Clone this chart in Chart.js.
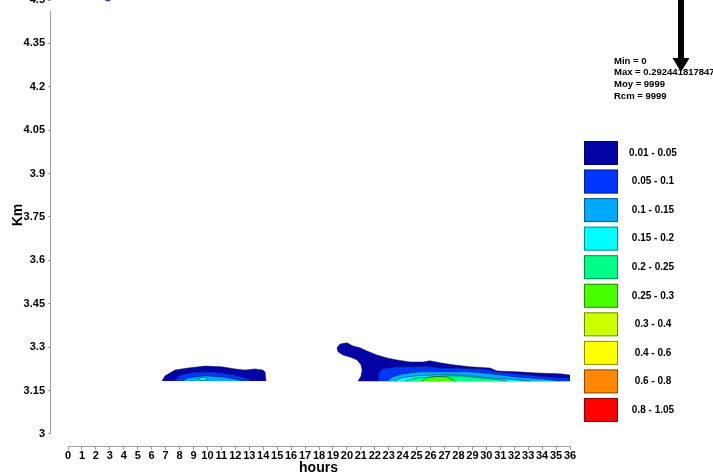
<!DOCTYPE html>
<html>
<head>
<meta charset="utf-8">
<script src="https://cdn.jsdelivr.net/npm/chart.js@4/dist/chart.umd.min.js"></script>
<style>
  html, body { margin: 0; padding: 0; background: #fff; overflow: hidden; }
  #wrap { position: absolute; left: 0; top: -20px; width: 713px; height: 495px; }
</style>
</head>
<body>
<div id="wrap"><canvas id="chart" width="713" height="495"></canvas></div>
<script>
// axis ticks
const hourTicks = Array.from({length: 37}, (_, i) => i)
const kmTicks = [3, 3.15, 3.3, 3.45, 3.6, 3.75, 3.9, 4.05, 4.2, 4.35, 4.5]
const kmTickLabels = ['3', '3.15', '3.3', '3.45', '3.6', '3.75', '3.9', '4.05', '4.2', '4.35', '4.5']

// contour classes
const levelLabels = ['0.01 - 0.05', '0.05 - 0.1', '0.1 - 0.15', '0.15 - 0.2', '0.2 - 0.25',
  '0.25 - 0.3', '0.3 - 0.4', '0.4 - 0.6', '0.6 - 0.8', '0.8 - 1.05']
const levelColors = ['#0404a6', '#0036ff', '#00aaff', '#00ffff', '#00ff88',
  '#48ff00', '#ccff00', '#ffff00', '#ff8800', '#ff0000']

const statsLines = ['Min = 0', 'Max = 0.292441817847', 'Moy = 9999', 'Rcm = 9999']

// contour outlines, [hour, km]
const morningLevel1 = [[6.74, 3.183], [6.96, 3.201], [7.67, 3.221], [8.61, 3.228], [9.83, 3.235],
  [11.04, 3.232], [11.98, 3.225], [12.69, 3.221], [13.41, 3.225], [13.98, 3.221], [14.13, 3.214], [14.2, 3.183]]
const morningLevel2 = [[7.6, 3.183], [8.03, 3.204], [9.11, 3.214], [10.54, 3.214], [11.98, 3.204],
  [12.91, 3.19], [13.2, 3.183]]
const morningLevel3 = [[8.25, 3.183], [8.61, 3.194], [9.83, 3.201], [11.04, 3.197], [11.98, 3.19], [12.55, 3.183]]
const morningLevel4 = [[9.32, 3.19], [9.5, 3.194], [9.68, 3.195], [9.86, 3.194], [10.04, 3.19],
  [9.86, 3.186], [9.68, 3.185], [9.5, 3.186], [9.32, 3.19]]

const eveningLevel1 = [[19.29, 3.298], [19.51, 3.311], [20.01, 3.315], [20.44, 3.304], [20.94, 3.298],
  [21.44, 3.287], [22.16, 3.273], [22.88, 3.263], [23.59, 3.256], [24.53, 3.249], [25.46, 3.249],
  [25.96, 3.253], [26.68, 3.246], [27.61, 3.239], [28.83, 3.232], [30.26, 3.228], [30.77, 3.218],
  [32.2, 3.215], [33.63, 3.211], [35.28, 3.208], [36, 3.204], [36, 3.183], [20.8, 3.183],
  [21.01, 3.2], [21.09, 3.221], [21.01, 3.239], [20.73, 3.256], [20.22, 3.266], [19.72, 3.273],
  [19.36, 3.284], [19.29, 3.298]]
const eveningLevel2 = [[22.23, 3.183], [22.3, 3.211], [22.52, 3.225], [22.88, 3.228], [23.59, 3.232],
  [24.74, 3.232], [25.75, 3.235], [26.68, 3.228], [27.9, 3.228], [29.76, 3.225], [30.26, 3.221],
  [30.77, 3.215], [32.2, 3.208], [33.63, 3.201], [35.28, 3.194], [36, 3.194], [36, 3.183]]
const eveningLevel3 = [[22.95, 3.183], [23.24, 3.197], [24.02, 3.208], [25.24, 3.215], [26.46, 3.215],
  [27.9, 3.215], [28.83, 3.215], [30.26, 3.208], [32.2, 3.197], [34.06, 3.19], [35.28, 3.183]]
const eveningLevel4 = [[23.45, 3.183], [23.95, 3.194], [25.03, 3.201], [26.46, 3.204], [27.9, 3.204],
  [28.83, 3.201], [30.26, 3.194], [32.2, 3.187], [33.13, 3.183]]
const eveningLevel5 = [[24.17, 3.183], [25.03, 3.194], [25.96, 3.197], [27.4, 3.201], [28.11, 3.201],
  [29.55, 3.194], [30.98, 3.187], [31.48, 3.183]]
const eveningLevel6 = [[25.39, 3.183], [25.75, 3.194], [26.46, 3.199], [27.18, 3.197], [27.61, 3.187], [27.75, 3.183]]

const topPoint = [[2.85, 4.505]]

const contours = [
  {points: morningLevel1, level: 0}, {points: morningLevel2, level: 1},
  {points: morningLevel3, level: 2}, {points: morningLevel4, level: 3, tension: 0.4},
  {points: eveningLevel1, level: 0}, {points: eveningLevel2, level: 1},
  {points: eveningLevel3, level: 2}, {points: eveningLevel4, level: 3},
  {points: eveningLevel5, level: 4}, {points: eveningLevel6, level: 5},
]

const font = 'Liberation Sans, Arial, sans-serif'
Chart.defaults.font.family = font

const datasets = contours.map((c) => ({
  type: 'line',
  data: c.points.map(([h, km]) => ({x: h, y: km})),
  fill: 'shape',
  backgroundColor: levelColors[c.level],
  borderColor: 'rgba(20, 20, 50, 0.6)',
  borderWidth: 0.8,
  pointRadius: 0,
  tension: c.tension || 0,
  order: 10 - c.level,
}))

datasets.push({
  type: 'line',
  data: topPoint.map(([h, km]) => ({x: h, y: km})),
  showLine: false,
  pointRadius: 3,
  pointBackgroundColor: '#3a3ab4',
  pointBorderWidth: 0,
  clip: false,
  order: 0,
})

// axis lines, titles, legend, stats box and arrow
const decorations = {
  id: 'decorations',
  afterDraw(chart) {
    const {ctx, chartArea, scales: {x, y}} = chart
    ctx.save()
    ctx.strokeStyle = '#9c9c9c'
    ctx.lineWidth = 1
    const yx = Math.round(chartArea.left) - 0.5
    ctx.beginPath()
    ctx.moveTo(yx, 31)
    ctx.lineTo(yx, y.getPixelForValue(3))
    ctx.stroke()
    const xy = Math.round(chartArea.bottom) + 0.5
    ctx.beginPath()
    ctx.moveTo(x.getPixelForValue(0), xy)
    ctx.lineTo(x.getPixelForValue(36), xy)
    ctx.stroke()

    ctx.fillStyle = '#000'
    ctx.font = 'bold 14px ' + font
    ctx.textAlign = 'center'
    ctx.textBaseline = 'middle'
    ctx.fillText('hours', 318.5, 488)
    ctx.save()
    ctx.translate(18, 235)
    ctx.rotate(-Math.PI / 2)
    ctx.fillText('Km', 0, 0)
    ctx.restore()

    // legend
    ctx.font = 'bold 10px ' + font
    levelLabels.forEach((label, i) => {
      const top = 161 + i * 28.55
      ctx.fillStyle = levelColors[i]
      ctx.fillRect(584, top, 34, 24)
      ctx.strokeStyle = 'rgba(0, 0, 0, 0.45)'
      ctx.strokeRect(584.5, top + 0.5, 33, 23)
      ctx.fillStyle = '#000'
      ctx.fillText(label, 653, top + 12)
    })

    // stats
    ctx.font = 'bold 9.5px ' + font
    ctx.textAlign = 'left'
    statsLines.forEach((line, i) => {
      ctx.fillText(line, 614, 81 + i * 11.7)
    })

    // arrow
    ctx.fillStyle = '#000'
    ctx.fillRect(678, 0, 6, 79)
    ctx.beginPath()
    ctx.moveTo(672.5, 78)
    ctx.lineTo(689.5, 78)
    ctx.lineTo(681, 92)
    ctx.closePath()
    ctx.fill()
    ctx.restore()
  },
}

new Chart(document.getElementById('chart'), {
  data: {datasets},
  options: {
    responsive: false,
    animation: false,
    events: [],
    layout: {padding: {top: 20, right: 143, left: 0, bottom: 0}},
    plugins: {legend: {display: false}, tooltip: {enabled: false}},
    scales: {
      x: {
        type: 'linear',
        min: -1.22,
        max: 36,
        afterBuildTicks: (scale) => { scale.ticks = hourTicks.map((v) => ({value: v})) },
        afterFit: (scale) => { scale.height = 29 },
        border: {display: false},
        grid: {drawOnChartArea: false, drawTicks: true, tickLength: 4, color: '#9c9c9c'},
        ticks: {
          autoSkip: false, maxRotation: 0, minRotation: 0, padding: -1,
          color: '#000', font: {size: 11, weight: 'bold'},
          callback: (v) => String(v),
        },
      },
      y: {
        type: 'linear',
        min: 2.9585,
        max: 4.5,
        afterBuildTicks: (scale) => { scale.ticks = kmTicks.map((v) => ({value: v})) },
        afterFit: (scale) => { scale.width = 51 },
        border: {display: false},
        grid: {drawOnChartArea: false, drawTicks: true, tickLength: 3, color: '#9c9c9c'},
        ticks: {
          padding: 3, color: '#000', font: {size: 11, weight: 'bold'},
          callback: (v, i) => kmTickLabels[i],
        },
      },
    },
  },
  plugins: [decorations],
})
</script>
</body>
</html>
